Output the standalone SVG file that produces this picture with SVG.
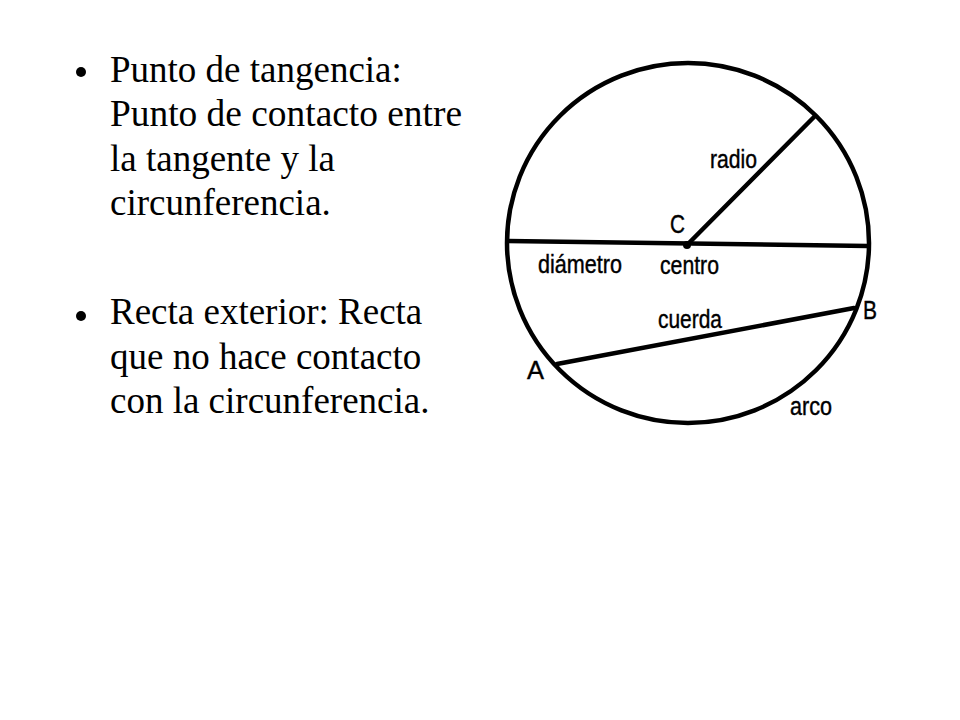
<svg xmlns="http://www.w3.org/2000/svg" width="960" height="720" viewBox="0 0 960 720">
<style>
.body{font-family:"Liberation Serif","Times New Roman",serif;font-size:37px;fill:#000}
.lbl{font-family:"Liberation Sans",Arial,sans-serif;font-size:25px;fill:#000;stroke:#000;stroke-width:0.4}
.ln{stroke:#000;stroke-width:4.5;fill:none;stroke-linecap:round}
</style>
<rect width="960" height="720" fill="#fff"/>
<g id="text">
<circle cx="81" cy="72" r="5" fill="#000"/>
<text class="body" x="110" y="82">Punto de tangencia:</text>
<text class="body" x="110" y="126" textLength="352" lengthAdjust="spacingAndGlyphs">Punto de contacto entre</text>
<text class="body" x="110" y="171">la tangente y la</text>
<text class="body" x="110" y="215">circunferencia.</text>
<circle cx="81" cy="316" r="5" fill="#000"/>
<text class="body" x="110" y="324">Recta exterior: Recta</text>
<text class="body" x="110" y="369">que no hace contacto</text>
<text class="body" x="110" y="413">con la circunferencia.</text>
</g>
<g id="circle">
<ellipse class="ln" cx="688" cy="243" rx="181" ry="180"/>
</g>
<g id="connectors">
<line class="ln" x1="508" y1="241" x2="868" y2="246"/>
<line class="ln" x1="687" y1="245" x2="814" y2="117"/>
<line class="ln" x1="557" y1="364" x2="854" y2="308"/>
<circle cx="687" cy="245" r="4" fill="#000"/>
</g>
<g id="labels">
<text class="lbl" x="710" y="168" textLength="47" lengthAdjust="spacingAndGlyphs">radio</text>
<text class="lbl" x="670" y="233" textLength="15" lengthAdjust="spacingAndGlyphs">C</text>
<text class="lbl" x="538" y="273" textLength="84" lengthAdjust="spacingAndGlyphs">diámetro</text>
<text class="lbl" x="660" y="274" textLength="59" lengthAdjust="spacingAndGlyphs">centro</text>
<text class="lbl" x="658" y="328" textLength="64" lengthAdjust="spacingAndGlyphs">cuerda</text>
<text class="lbl" x="863" y="319" textLength="14" lengthAdjust="spacingAndGlyphs">B</text>
<text class="lbl" x="527" y="379" textLength="17" lengthAdjust="spacingAndGlyphs">A</text>
<text class="lbl" x="790" y="415" textLength="42" lengthAdjust="spacingAndGlyphs">arco</text>
</g>
</svg>
